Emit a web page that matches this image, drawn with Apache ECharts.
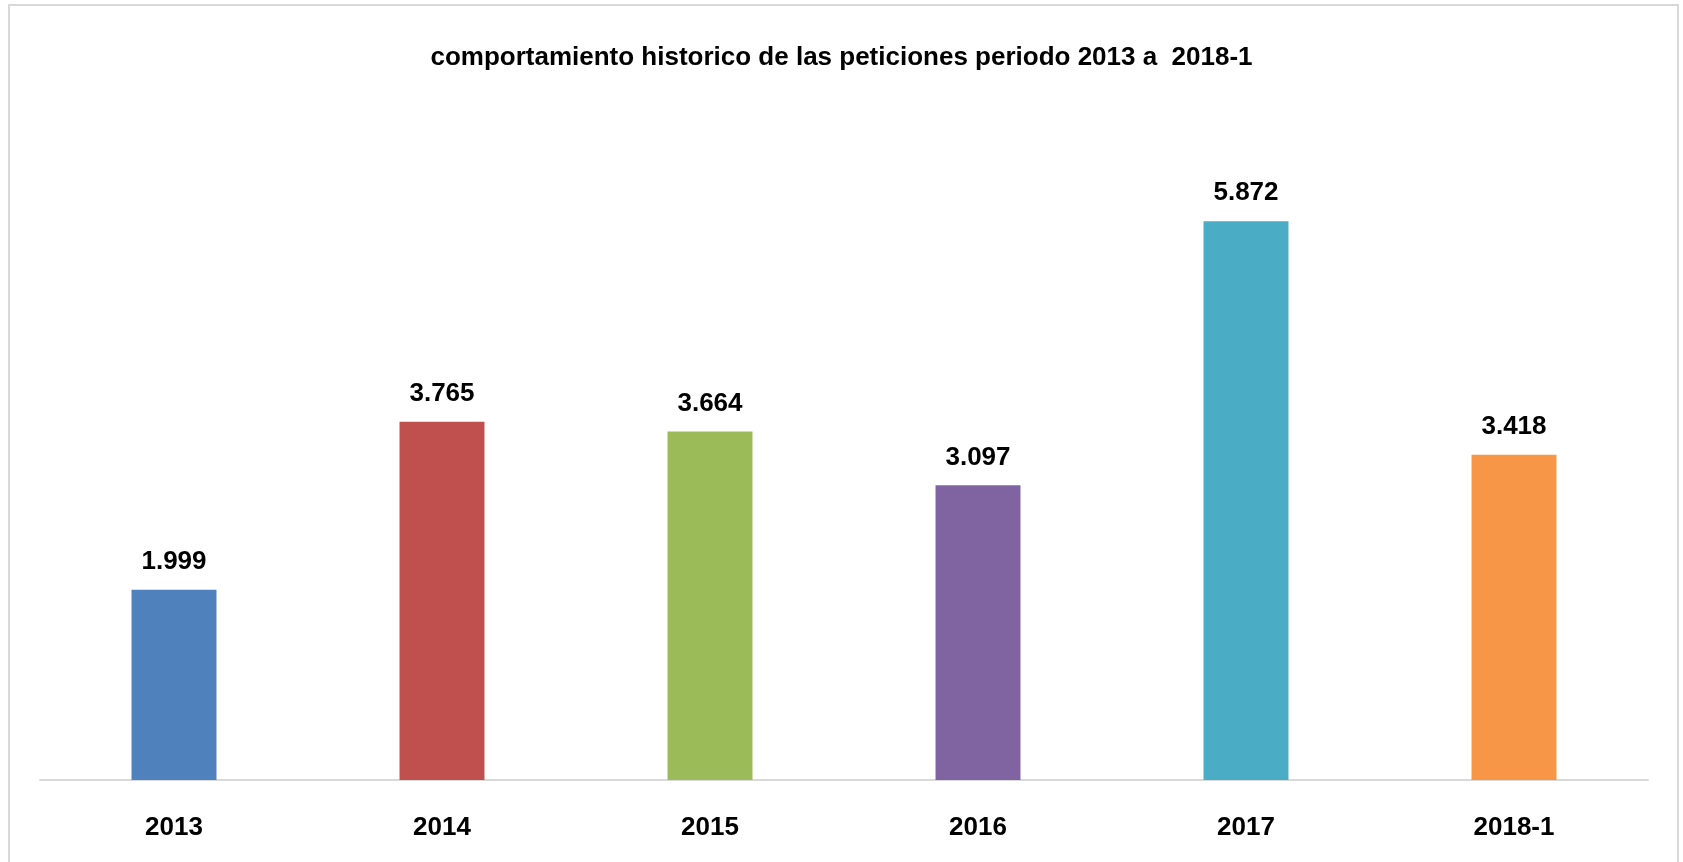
<!DOCTYPE html>
<html>
<head>
<meta charset="utf-8">
<script src="https://cdn.jsdelivr.net/npm/echarts@6/dist/echarts.min.js"></script>
<style>
  html, body { margin: 0; padding: 0; background: #fff; }
  #main { width: 1683px; height: 862px; }
</style>
</head>
<body>
<div id="main"></div>
<script>
// datos
var years = ['2013', '2014', '2015', '2016', '2017', '2018-1'];
var peticiones = [1999, 3765, 3664, 3097, 5872, 3418];
var colores = ['#4F81BD', '#C0504D', '#9BBB59', '#8064A2', '#4BACC6', '#F79646'];

// separador de miles con punto
function fmt(v) {
  return String(v).replace(/\B(?=(\d{3})+(?!\d))/g, '.');
}

var chart = echarts.init(document.getElementById('main'));

var option = {
  animation: false,
  title: {
    text: 'comportamiento historico de las peticiones periodo 2013 a  2018-1',
    left: 'center',
    top: 40,
    textStyle: {
      fontFamily: 'Liberation Sans',
      fontWeight: 'bold',
      fontSize: 26,
      color: '#000'
    }
  },
  graphic: [{
    type: 'rect',
    shape: { x: 9, y: 5, width: 1669, height: 900 },
    style: { fill: 'none', stroke: '#d9d9d9', lineWidth: 2 },
    silent: true
  }],
  grid: { left: 40, right: 35, top: 114, bottom: 82 },
  xAxis: {
    type: 'category',
    data: years,
    axisLine: { lineStyle: { color: '#d9d9d9', width: 2 } },
    axisTick: { show: false },
    axisLabel: {
      margin: 35,
      fontFamily: 'Liberation Sans',
      fontWeight: 'bold',
      fontSize: 26,
      color: '#000'
    }
  },
  yAxis: {
    type: 'value',
    min: 0,
    max: 7000,
    show: false,
    splitLine: { show: false }
  },
  series: [{
    type: 'bar',
    barWidth: '31.7%',
    data: peticiones.map(function (v, i) {
      return { value: v, itemStyle: { color: colores[i] } };
    }),
    label: {
      show: true,
      position: 'top',
      distance: 15,
      fontFamily: 'Liberation Sans',
      fontWeight: 'bold',
      fontSize: 26,
      color: '#000',
      formatter: function (p) { return fmt(p.value); }
    }
  }]
};

chart.setOption(option);
</script>
</body>
</html>
